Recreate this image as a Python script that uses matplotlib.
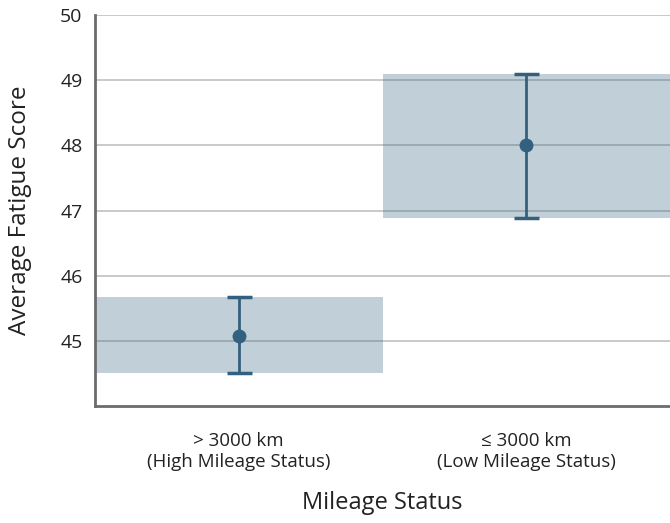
import matplotlib
matplotlib.use("Agg")
import matplotlib.pyplot as plt
from matplotlib.patches import Rectangle

# Fatigue score by mileage group: mean with confidence interval
categories = ["> 3000 km\n(High Mileage Status)", "≤ 3000 km\n(Low Mileage Status)"]
means = [45.08, 48.01]
ci_low = [44.50, 46.89]
ci_high = [45.67, 49.10]
y_ticks = [45, 46, 47, 48, 49, 50]

main_color = "#34607f"
spine_color = "#6b6b70"
text_color = "#222222"

plt.rcParams["font.family"] = ["Open Sans", "DejaVu Sans"]

fig = plt.figure(figsize=(6.7, 5.23), dpi=100)
ax = fig.add_axes([0.1418, 0.2237, 0.8582, 0.7476])

x = list(range(len(categories)))

# shaded interval bands
for xi, lo, hi in zip(x, ci_low, ci_high):
    ax.add_patch(Rectangle((xi - 0.5, lo), 1.0, hi - lo,
                           facecolor=main_color, alpha=0.3, edgecolor="none", zorder=2))

# means with error bars
yerr = [[m - lo for m, lo in zip(means, ci_low)],
        [hi - m for m, hi in zip(means, ci_high)]]
ax.errorbar(x, means, yerr=yerr, fmt="o", color=main_color, ecolor=main_color,
            elinewidth=2, capsize=9, capthick=2.5, markersize=9, zorder=3)

ax.set_xlim(-0.5, 1.5)
ax.set_ylim(44, 50)
ax.set_yticks(y_ticks)
ax.set_xticks(x)
ax.set_xticklabels(categories, fontsize=13.5, color=text_color, linespacing=1.2)
ax.tick_params(axis="y", length=0, pad=9, labelsize=14, labelcolor=text_color)
ax.tick_params(axis="x", length=0, pad=19)

ax.yaxis.grid(True, color="#c0c0c0", linewidth=1.2, zorder=1)
ax.set_axisbelow(True)

for side in ["top", "right"]:
    ax.spines[side].set_visible(False)
for side in ["left", "bottom"]:
    ax.spines[side].set_color(spine_color)
    ax.spines[side].set_linewidth(2)

ax.set_ylabel("Average Fatigue Score", fontsize=17.5, color=text_color, labelpad=20)
ax.set_xlabel("Mileage Status", fontsize=17, color=text_color, labelpad=14)

fig.savefig("out.png", dpi=100)
